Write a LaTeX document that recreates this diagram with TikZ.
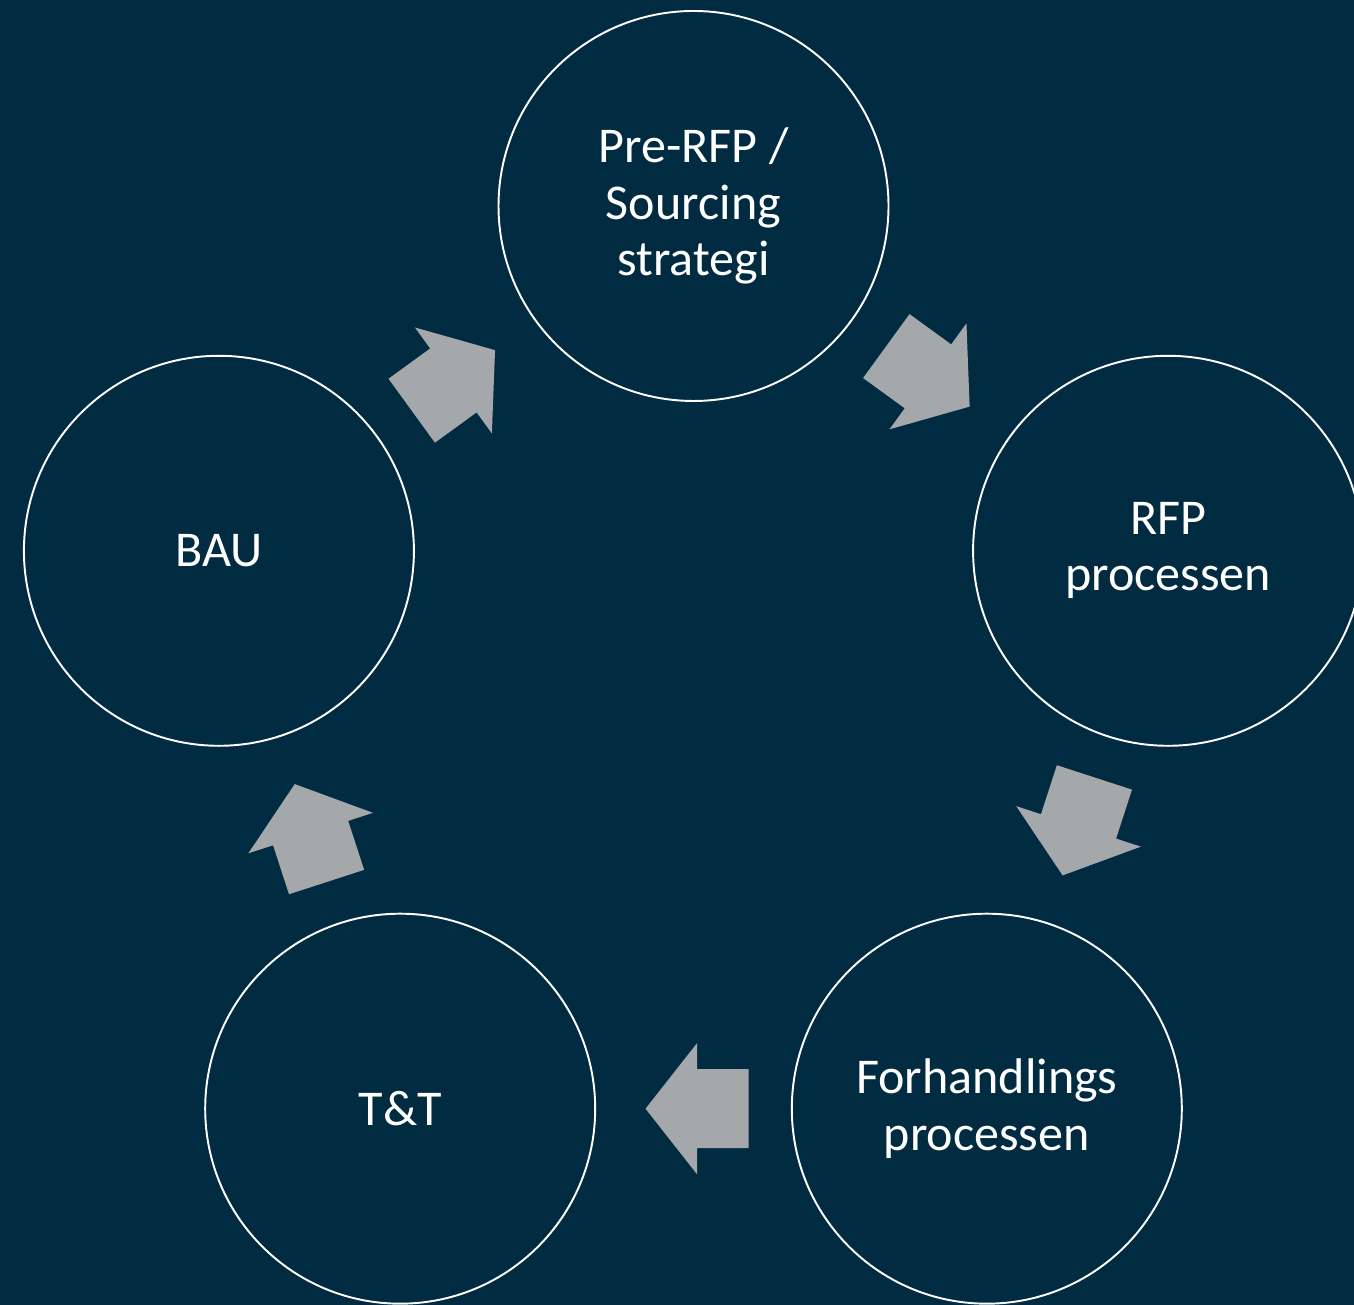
\documentclass[tikz,border=0pt]{standalone}
\usepackage{fontspec}
\setmainfont{Carlito}
\usetikzlibrary{calc}
\definecolor{cycNavy}{HTML}{012B41}
\definecolor{cycGray}{HTML}{A5A8AB}
\tikzset{
  cyc stage/.style={circle, draw=white, line width=1.1pt, minimum size=7.8cm, inner sep=0pt, align=center, text=white, font=\fontsize{28.5}{32}\selectfont},
  cyc arrow/.pic={\fill[cycGray](-1.10,-0.79)--(-0.07,-0.79)--(-0.07,-1.31)--(0.96,0)--(-0.07,1.31)--(-0.07,0.79)--(-1.10,0.79)--cycle;},
}

\begin{document}
\begin{tikzpicture}[x=1cm,y=1cm]
\useasboundingbox(0,0)rectangle(27.08,26.1);
\fill[cycNavy](0,0)rectangle(27.08,26.1);
\coordinate(c)at(13.87,12.0);
\node[cyc stage](pre)at($(c)+(90:9.98)$){Pre-RFP /\\Sourcing\\strategi};
\node[cyc stage](rfp)at($(c)+(18:9.98)$){RFP\\processen};
\node[cyc stage](neg)at($(c)+(-54:9.98)$){Forhandlings\\processen};
\node[cyc stage](tt)at($(c)+(-126:9.98)$){T\&T};
\node[cyc stage](bau)at($(c)+(162:9.98)$){BAU};
\pic[rotate=-36]at($(pre)!.5!(rfp)$){cyc arrow};
\pic[rotate=-108]at($(rfp)!.5!(neg)$){cyc arrow};
\pic[rotate=180]at($(neg)!.5!(tt)$){cyc arrow};
\pic[rotate=108]at($(tt)!.5!(bau)$){cyc arrow};
\pic[rotate=36]at($(bau)!.5!(pre)$){cyc arrow};
\end{tikzpicture}
\end{document}
